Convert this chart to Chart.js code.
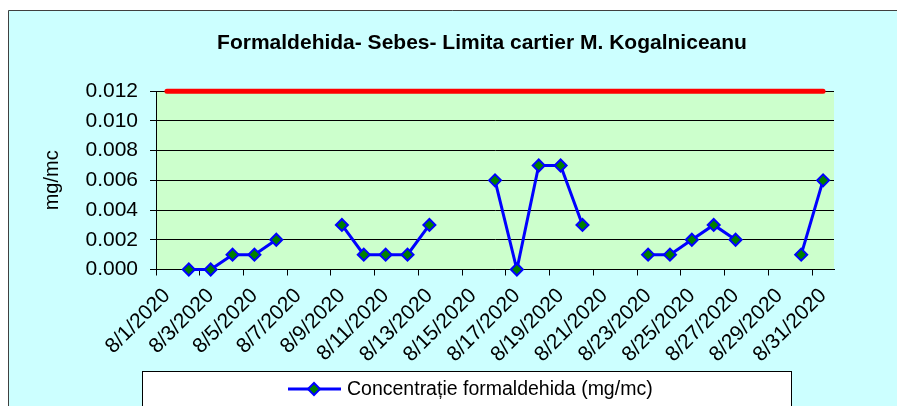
<!DOCTYPE html>
<html>
<head>
<meta charset="utf-8">
<title>Formaldehida- Sebes- Limita cartier M. Kogalniceanu</title>
<script src="https://cdn.jsdelivr.net/npm/chart.js@4.4.1/dist/chart.umd.min.js"></script>
<style>
  html, body { margin: 0; padding: 0; background: #fff; }
  #wrap { width: 897px; height: 406px; }
</style>
</head>
<body>
<div id="wrap"><canvas id="chart" width="897" height="406"></canvas></div>
<script>
var titleText = "Formaldehida- Sebes- Limita cartier M. Kogalniceanu";
var seriesName = "Concentrație formaldehida (mg/mc)";
var limitName = "Limita";
var yAxisName = "mg/mc";

var days = ["8/1/2020", "8/2/2020", "8/3/2020", "8/4/2020", "8/5/2020", "8/6/2020", "8/7/2020", "8/8/2020",
    "8/9/2020", "8/10/2020", "8/11/2020", "8/12/2020", "8/13/2020", "8/14/2020", "8/15/2020", "8/16/2020",
    "8/17/2020", "8/18/2020", "8/19/2020", "8/20/2020", "8/21/2020", "8/22/2020", "8/23/2020", "8/24/2020",
    "8/25/2020", "8/26/2020", "8/27/2020", "8/28/2020", "8/29/2020", "8/30/2020", "8/31/2020"];

// mg/mc, null = no measurement that day
var concentration = [null, 0, 0, 0.001, 0.001, 0.002, null, null,
    0.003, 0.001, 0.001, 0.001, 0.003, null, null, 0.006,
    0, 0.007, 0.007, 0.003, null, null, 0.001, 0.001,
    0.002, 0.003, 0.002, null, null, 0.001, 0.006];

var limit = [0.012, 0.012, 0.012, 0.012, 0.012, 0.012, 0.012, 0.012,
    0.012, 0.012, 0.012, 0.012, 0.012, 0.012, 0.012, 0.012,
    0.012, 0.012, 0.012, 0.012, 0.012, 0.012, 0.012, 0.012,
    0.012, 0.012, 0.012, 0.012, 0.012, 0.012, 0.012];

var yMin = 0, yMax = 0.012, yStep = 0.002;

Chart.defaults.font.family = "'Liberation Sans', Arial, sans-serif";
Chart.defaults.color = "#000";

// excel look: cyan frame, green plot area, legend box at the bottom
var excelFrame = {
    id: "excelFrame",
    afterLayout: function(chart) {
        // the original title is centred on the whole frame, not the padded box
        chart.titleBlock.left = 67;
        chart.titleBlock.right = chart.width;
    },
    beforeDraw: function(chart) {
        var ctx = chart.ctx, a = chart.chartArea;
        ctx.save();
        ctx.fillStyle = "#fff";
        ctx.fillRect(0, 0, chart.width, chart.height);
        ctx.fillStyle = "#ccffff";
        ctx.fillRect(8, 10, chart.width - 8, chart.height - 10);
        ctx.strokeStyle = "#404040";
        ctx.lineWidth = 1;
        ctx.beginPath();
        ctx.moveTo(8.5, chart.height);
        ctx.lineTo(8.5, 10.5);
        ctx.lineTo(chart.width, 10.5);
        ctx.stroke();
        ctx.fillStyle = "#ccffcc";
        ctx.fillRect(a.left, a.top, a.right - a.left, a.bottom - a.top);
        ctx.restore();
    },
    afterDraw: function(chart) {
        var ctx = chart.ctx;
        var ds = chart.data.datasets[0];
        ctx.save();
        ctx.fillStyle = "#fff";
        ctx.fillRect(142, 371, 649, 60);
        ctx.strokeStyle = "#000";
        ctx.lineWidth = 1;
        ctx.strokeRect(142.5, 371.5, 649, 60);
        ctx.strokeStyle = ds.borderColor;
        ctx.lineWidth = ds.borderWidth;
        ctx.beginPath();
        ctx.moveTo(288, 389);
        ctx.lineTo(341, 389);
        ctx.stroke();
        ctx.fillStyle = ds.pointBackgroundColor;
        ctx.strokeStyle = ds.pointBorderColor;
        ctx.lineWidth = ds.pointBorderWidth;
        Chart.helpers.drawPoint(ctx, { pointStyle: ds.pointStyle, radius: ds.pointRadius, borderWidth: ds.pointBorderWidth }, 314, 389);
        ctx.fillStyle = "#000";
        ctx.font = "19.5px 'Liberation Sans', Arial, sans-serif";
        ctx.textBaseline = "middle";
        ctx.textAlign = "left";
        ctx.fillText(ds.label, 347, 390);
        ctx.restore();
    }
};

new Chart(document.getElementById("chart"), {
    type: "line",
    data: {
        labels: days,
        datasets: [{
            label: seriesName,
            data: concentration,
            borderColor: "#0000ff",
            borderWidth: 3,
            pointStyle: "rectRot",
            pointRadius: 6,
            pointBorderWidth: 2,
            pointBackgroundColor: "#008000",
            pointBorderColor: "#0000ff",
            tension: 0,
            spanGaps: false,
            clip: false
        }, {
            label: limitName,
            data: limit,
            borderColor: "#ff0000",
            borderWidth: 5,
            borderCapStyle: "round",
            pointRadius: 0,
            tension: 0,
            clip: false
        }]
    },
    options: {
        responsive: false,
        animation: false,
        layout: { padding: { left: 20, right: 63, top: 10, bottom: 0 } },
        plugins: {
            legend: { display: false },
            tooltip: { enabled: false },
            title: {
                display: true,
                text: titleText,
                font: { size: 21, weight: "bold" },
                color: "#000",
                padding: { top: 21, bottom: 35 }
            }
        },
        scales: {
            x: {
                offset: true,
                grid: {
                    offset: true,
                    drawOnChartArea: false,
                    tickLength: 6,
                    color: function(c) { return c.index % 2 === 0 ? "#000" : "rgba(0,0,0,0)"; }
                },
                border: { color: "#000", width: 1 },
                ticks: {
                    autoSkip: false,
                    minRotation: 45,
                    maxRotation: 45,
                    padding: 8,
                    font: { size: 21 },
                    color: "#000",
                    callback: function(v, i) { return i % 2 === 0 ? this.getLabelForValue(v) : ""; }
                },
                afterFit: function(s) { s.height = 136.5; }
            },
            y: {
                min: yMin,
                max: yMax,
                ticks: {
                    stepSize: yStep,
                    padding: 12,
                    font: { size: 21 },
                    color: "#000",
                    callback: function(v) { return v.toFixed(3); }
                },
                grid: { color: "#000", tickLength: 6 },
                border: { color: "#000", width: 1 },
                title: {
                    display: true,
                    text: yAxisName,
                    font: { size: 20 },
                    color: "#000",
                    padding: { top: 20, bottom: 0 }
                },
                afterFit: function(s) { s.width = 136; }
            }
        }
    },
    plugins: [excelFrame]
});
</script>
</body>
</html>
